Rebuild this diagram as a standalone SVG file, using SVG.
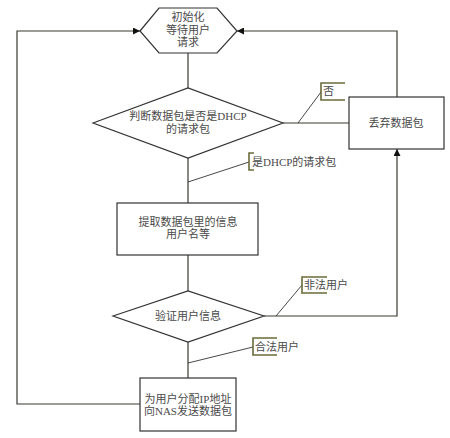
<svg xmlns="http://www.w3.org/2000/svg" width="450" height="438" viewBox="0 0 450 438">
<style>
.shape{fill:#fff;stroke:#333;stroke-width:1.2}
.ln{fill:none;stroke:#3a3a30;stroke-width:1.2}
.cl{fill:none;stroke:#333;stroke-width:0.9}
.br{fill:none;stroke:#6b6b3a;stroke-width:1.6}
text{font-family:"Liberation Serif","Noto Sans CJK SC",serif;font-size:11px;fill:#4a4a4a;text-anchor:middle}
.lt{text-anchor:start}
</style>
<defs>
<marker id="ar" viewBox="0 0 10 10" refX="10" refY="5" markerWidth="7" markerHeight="7" orient="auto" markerUnits="userSpaceOnUse">
<path d="M0,0 L10,5 L0,10 z" fill="#111"/>
</marker>
</defs>
<rect width="450" height="438" fill="#fff"/>
<g id="connectors">
<line class="ln" x1="188" y1="53" x2="188" y2="88"/>
<line class="ln" x1="188" y1="158" x2="188" y2="203"/>
<line class="ln" x1="188" y1="255" x2="188" y2="291"/>
<line class="ln" x1="188" y1="342" x2="188" y2="378"/>
<line class="ln" x1="283" y1="123" x2="349" y2="123"/>
<polyline class="ln" points="397,97 397,31 237,31" marker-end="url(#ar)"/>
<polyline class="ln" points="264,316 397,316 397,149" marker-end="url(#ar)"/>
<polyline class="ln" points="140,404 17,404 17,31 140,31" marker-end="url(#ar)"/>
</g>
<g id="callout-no">
<line class="cl" x1="298" y1="123" x2="321" y2="92"/>
<polyline class="br" points="345,83 321,83 321,100 345,100"/>
<text class="lt" x="323" y="95">否</text>
</g>
<g id="callout-yes">
<line class="cl" x1="188" y1="182" x2="249" y2="162"/>
<polyline class="br" points="254,153 249,153 249,170 254,170"/>
<text class="lt" x="252" y="166">是DHCP的请求包</text>
</g>
<g id="callout-illegal">
<line class="cl" x1="276" y1="316" x2="302" y2="285"/>
<polyline class="br" points="327,277 302,277 302,293 327,293"/>
<text class="lt" x="304" y="289">非法用户</text>
</g>
<g id="callout-legal">
<line class="cl" x1="188" y1="363" x2="253" y2="347"/>
<polyline class="br" points="277,338 253,338 253,355 277,355"/>
<text class="lt" x="255" y="351">合法用户</text>
</g>
<g id="init">
<polygon class="shape" points="140,31 159,8 217,8 237,31 217,53 159,53"/>
<text x="188" y="21">初始化</text>
<text x="188" y="34">等待用户</text>
<text x="188" y="46">请求</text>
</g>
<g id="check-dhcp">
<polygon class="shape" points="93,123 188,88 283,123 188,158"/>
<text x="188" y="120">判断数据包是否是DHCP</text>
<text x="188" y="133">的请求包</text>
</g>
<g id="drop">
<rect class="shape" x="349" y="97" width="95" height="52"/>
<text x="396" y="127">丢弃数据包</text>
</g>
<g id="extract">
<rect class="shape" x="117" y="203" width="141" height="52"/>
<text x="188" y="226">提取数据包里的信息</text>
<text x="188" y="238">用户名等</text>
</g>
<g id="verify">
<polygon class="shape" points="113,316 188,291 264,316 188,342"/>
<text x="188" y="320">验证用户信息</text>
</g>
<g id="assign">
<rect class="shape" x="140" y="378" width="96" height="53"/>
<text x="188" y="403">为用户分配IP地址</text>
<text x="188" y="415">向NAS发送数据包</text>
</g>
</svg>
